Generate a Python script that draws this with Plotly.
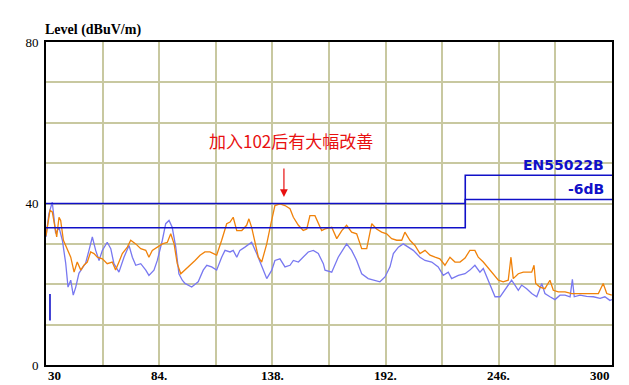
import plotly.graph_objects as go

# Measured trace after fix (blue-violet)
blue_freq = [30.0, 31.4, 33.0, 33.8, 34.6, 36.2, 37.8, 39.4, 40.5, 41.8, 43.0, 44.2, 45.7, 47.3, 48.9,
             50.5, 52.1, 53.7, 55.3, 56.9, 59.2, 60.9, 62.4, 64.8, 67.2, 69.6, 71.2, 72.8, 75.2, 77.6,
             79.1, 81.5, 83.1, 85.5, 87.1, 88.7, 90.2, 91.9, 93.4, 95.0, 96.3, 99.5, 102.6, 105.0, 106.7,
             109.0, 111.4, 113.8, 115.4, 117.8, 119.3, 121.0, 122.5, 124.9, 128.1, 130.5, 132.9, 135.3,
             137.7, 139.2, 141.6, 144.0, 146.4, 148.0, 150.4, 152.7, 155.1, 157.5, 159.9, 162.3, 163.1,
             166.3, 169.4, 173.4, 175.8, 178.2, 180.6, 183.7, 186.9, 189.3, 191.7, 194.1, 195.7, 198.1,
             200.4, 202.8, 205.2, 208.4, 210.8, 214.0, 217.1, 219.5, 221.9, 223.5, 226.7, 229.9, 232.2,
             234.6, 237.0, 238.6, 240.2, 242.6, 244.2, 246.6, 248.1, 249.8, 252.1, 253.7, 255.3, 256.9,
             259.3, 261.7, 264.1, 266.5, 268.0, 270.4, 272.8, 275.2, 277.6, 280.0, 281.1, 282.0, 284.7,
             287.9, 291.1, 294.3, 296.6, 299.0, 300.0]
blue_level = [31.7, 37.5, 40.3, 36.6, 32.6, 34.1, 30.9, 25.2, 19.3, 21.0, 17.3, 19.3, 22.7, 24.0, 25.2,
              28.4, 31.7, 28.4, 25.9, 28.4, 30.4, 28.8, 25.1, 23.0, 26.7, 29.6, 26.7, 24.7, 25.1, 23.5,
              22.2, 23.5, 25.9, 30.9, 35.0, 35.8, 34.1, 29.2, 22.6, 21.0, 20.2, 19.3, 20.6, 23.5, 24.7,
              24.3, 23.5, 26.7, 28.4, 28.0, 28.4, 26.7, 28.4, 29.2, 30.4, 27.6, 24.3, 21.4, 23.5, 25.9,
              26.3, 24.3, 24.7, 25.9, 25.5, 26.7, 28.0, 28.4, 27.6, 25.1, 23.5, 23.0, 26.7, 30.0, 28.4,
              25.9, 22.6, 21.4, 21.0, 20.6, 21.8, 24.3, 27.6, 29.2, 30.0, 29.2, 28.4, 26.7, 25.9, 25.5,
              24.3, 22.2, 23.0, 21.4, 22.2, 22.6, 23.5, 24.7, 23.0, 23.9, 21.8, 18.9, 16.9, 16.9, 18.1,
              19.3, 21.0, 19.8, 18.5, 19.8, 18.9, 17.7, 16.9, 20.2, 17.7, 16.9, 16.2, 17.3, 17.3, 16.9,
              21.2, 16.9, 17.3, 17.0, 16.9, 16.5, 16.9, 16.0, 16.2]

# Measured trace (orange)
orange_freq = [30.0, 30.6, 31.9, 33.0, 34.2, 35.1, 36.2, 37.0, 38.3, 39.9, 41.8, 43.4, 44.9, 46.6, 48.1,
               49.7, 51.3, 52.9, 54.5, 56.9, 59.2, 61.6, 63.2, 64.8, 66.4, 68.8, 70.4, 72.8, 75.2, 77.6,
               79.1, 80.7, 83.1, 85.5, 87.9, 89.5, 91.1, 92.6, 94.3, 96.3, 98.7, 101.1, 103.5, 105.8,
               108.2, 111.4, 113.8, 116.2, 117.8, 119.3, 121.0, 123.4, 125.7, 126.8, 128.1, 129.7, 131.3,
               132.9, 135.3, 137.3, 139.2, 141.6, 144.0, 146.4, 148.0, 150.4, 152.7, 154.4, 155.9, 158.3,
               159.9, 161.5, 163.1, 166.3, 168.7, 171.1, 173.4, 175.8, 178.2, 180.6, 183.0, 185.4, 187.7,
               190.1, 192.5, 194.9, 197.3, 199.7, 201.2, 203.6, 206.0, 208.4, 210.8, 213.2, 215.6, 217.9,
               220.3, 222.7, 225.1, 227.5, 229.9, 232.2, 234.6, 236.2, 238.6, 241.0, 243.4, 245.8, 248.1,
               250.5, 251.8, 252.9, 255.3, 257.7, 260.1, 261.7, 262.8, 263.6, 265.6, 268.0, 270.4, 272.0,
               274.4, 277.6, 280.8, 283.9, 287.1, 290.3, 293.5, 295.8, 297.5, 299.9]
orange_level = [32.0, 34.1, 38.3, 37.9, 34.1, 31.7, 36.6, 35.8, 30.9, 28.8, 26.7, 23.0, 25.5, 23.5, 24.7,
                25.5, 28.0, 27.6, 26.7, 26.3, 25.1, 25.5, 23.5, 25.5, 27.6, 29.2, 30.9, 30.0, 28.8, 28.4,
                26.7, 28.4, 29.2, 30.0, 30.4, 32.5, 30.0, 25.1, 22.6, 23.5, 24.7, 25.9, 27.2, 28.0, 28.0,
                27.2, 30.9, 35.0, 35.4, 36.6, 33.3, 33.3, 34.6, 36.2, 34.1, 30.0, 26.7, 25.5, 30.0, 35.0,
                39.5, 39.9, 39.5, 38.7, 36.6, 34.6, 33.3, 33.7, 37.0, 37.0, 35.0, 33.3, 33.7, 34.1, 31.3,
                33.3, 34.6, 32.9, 32.5, 28.8, 28.8, 35.0, 33.7, 32.9, 32.5, 31.3, 30.9, 30.9, 32.9, 30.9,
                29.6, 27.6, 28.4, 27.2, 26.7, 26.3, 24.7, 26.7, 25.5, 25.5, 26.5, 28.4, 28.4, 26.7, 25.5,
                23.9, 22.6, 21.0, 20.6, 21.0, 26.7, 21.4, 22.6, 23.0, 23.0, 23.0, 24.7, 20.2, 19.3, 18.9,
                21.0, 18.5, 18.1, 18.1, 17.7, 17.7, 17.8, 17.7, 17.7, 20.2, 17.7, 17.3]

# EN55022B limit and -6 dB margin line
limit_freq = [30, 230, 230, 300]
limit_level = [40, 40, 47, 47]
margin_level = [34, 34, 41, 41]

# small marker stroke near the origin
stub_freq = [31.9, 31.9]
stub_level = [11.0, 17.6]

x_tick_vals = [30, 84, 138, 192, 246, 300]
x_tick_text = ["30", "84.", "138.", "192.", "246.", "300"]
y_tick_vals = [0, 10, 20, 30, 40, 50, 60, 70, 80]
y_tick_text = ["0", "", "", "", "40", "", "", "", "80"]
x_grid_vals = [30, 57, 84, 111, 138, 165, 192, 219, 246, 273, 300]

LIMIT_BLUE = "#1010C8"
serif = "Liberation Serif"

fig = go.Figure()
fig.add_trace(go.Scatter(x=blue_freq, y=blue_level, mode="lines",
                         line=dict(color="#7878F0", width=1.3), hoverinfo="skip"))
fig.add_trace(go.Scatter(x=orange_freq, y=orange_level, mode="lines",
                         line=dict(color="#F0820A", width=1.3), hoverinfo="skip"))
fig.add_trace(go.Scatter(x=limit_freq, y=limit_level, mode="lines",
                         line=dict(color=LIMIT_BLUE, width=1.6), hoverinfo="skip"))
fig.add_trace(go.Scatter(x=limit_freq, y=margin_level, mode="lines",
                         line=dict(color=LIMIT_BLUE, width=1.6), hoverinfo="skip"))
fig.add_trace(go.Scatter(x=stub_freq, y=stub_level, mode="lines",
                         line=dict(color=LIMIT_BLUE, width=1.6), hoverinfo="skip"))

annotations = []
for v, t in zip(x_tick_vals, x_tick_text):
    anchor = "center"
    if v == x_tick_vals[0]:
        anchor = "left"
    elif v == x_tick_vals[-1]:
        anchor = "right"
    annotations.append(dict(x=v, y=0, xref="x", yref="y", text=f"<b>{t}</b>", showarrow=False,
                            xanchor=anchor, yanchor="top", yshift=-1,
                            font=dict(family=serif, size=13, color="black")))

annotations.append(dict(x=0.0, y=1.0, xref="paper", yref="paper", text="<b>Level (dBuV/m)</b>",
                        showarrow=False, xanchor="left", yanchor="bottom", yshift=2, xshift=-3,
                        font=dict(family=serif, size=14, color="black")))
annotations.append(dict(x=300, y=47, xref="x", yref="y", text="<b>EN55022B</b>", showarrow=False,
                        xanchor="right", yanchor="bottom", xshift=-6, yshift=0,
                        font=dict(family="DejaVu Sans", size=14, color=LIMIT_BLUE)))
annotations.append(dict(x=300, y=41, xref="x", yref="y", text="<b>-6dB</b>", showarrow=False,
                        xanchor="right", yanchor="bottom", xshift=-6, yshift=0,
                        font=dict(family="DejaVu Sans", size=14, color=LIMIT_BLUE)))
annotations.append(dict(x=143.5, y=41.6, xref="x", yref="y", text="", showarrow=True,
                        ax=0, ay=-30, arrowcolor="#E81010", arrowwidth=1.2, arrowhead=2, arrowsize=1.3))
annotations.append(dict(x=147.0, y=55.5, xref="x", yref="y", text="加入102后有大幅改善", showarrow=False,
                        xanchor="center", yanchor="middle",
                        font=dict(family="Noto Sans CJK SC", size=17, color="#E81010")))

fig.update_layout(
    width=629, height=385,
    margin=dict(l=46, r=17, t=42, b=20),
    paper_bgcolor="white", plot_bgcolor="white",
    showlegend=False,
    annotations=annotations,
    xaxis=dict(range=[30, 300], tickvals=x_grid_vals, ticktext=[""] * len(x_grid_vals),
               showgrid=True, gridcolor="#C8C8A0", gridwidth=2, zeroline=False,
               showline=True, linecolor="black", linewidth=2, mirror=True, ticks=""),
    yaxis=dict(range=[0, 80], tickvals=y_tick_vals, ticktext=y_tick_text,
               showgrid=True, gridcolor="#C8C8A0", gridwidth=2, zeroline=False,
               showline=True, linecolor="black", linewidth=2, mirror=True, ticks="",
               tickfont=dict(family=serif, size=13, color="black"),
               ticklabelstandoff=3),
)
fig.write_html("out.html", config={"displayModeBar": False},
               post_script="document.body.style.margin='0';document.body.style.overflow='hidden';")
